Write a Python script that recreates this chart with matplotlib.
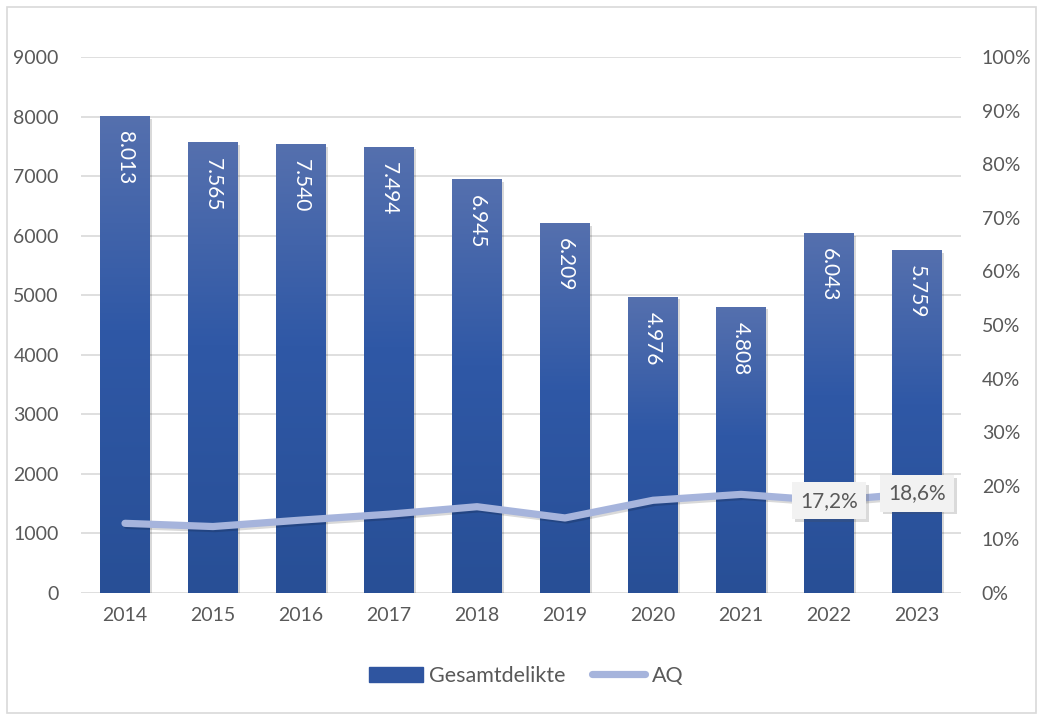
import matplotlib.pyplot as plt
import matplotlib.patheffects as pe
from matplotlib.colors import LinearSegmentedColormap
from matplotlib.patches import Rectangle
import numpy as np

years = ['2014', '2015', '2016', '2017', '2018', '2019', '2020', '2021', '2022', '2023']
delikte = [8013, 7565, 7540, 7494, 6945, 6209, 4976, 4808, 6043, 5759]
aq = [13.0, 12.4, 13.6, 14.7, 16.1, 14.0, 17.3, 18.4, 17.2, 18.6]
aq_labels = {8: '17,2%', 9: '18,6%'}

plt.rcParams['font.family'] = ['Lato', 'DejaVu Sans']
txt = '#595959'

fig = plt.figure(figsize=(10.38, 7.14), dpi=100)
ax = fig.add_axes([81 / 1038, 1 - 593 / 714, (961 - 81) / 1038, (593 - 57) / 714])
ax2 = ax.twinx()

# outer frame
fig.patches.append(Rectangle((7 / 1038, 1 / 714), 1029 / 1038, 706 / 714,
                             transform=fig.transFigure, fill=False,
                             edgecolor='#d9d9d9', linewidth=1.2))

x = np.arange(len(years))
w = 0.56
bars = ax.bar(x, delikte, width=w, color='#2f55a0', zorder=2,
              path_effects=[pe.SimplePatchShadow(offset=(2, -2), shadow_rgbFace='black', alpha=0.15),
                            pe.Normal()])

# vertical gradient per bar: lighter top, darker bottom
cmap = LinearSegmentedColormap.from_list('g', [(0, '#284f96'), (0.55, '#2f58a6'), (1, '#5570ae')])
grad = np.linspace(0, 1, 256).reshape(-1, 1)
for b, v in zip(bars, delikte):
    im = ax.imshow(grad, cmap=cmap, aspect='auto', origin='lower', zorder=3,
                   extent=[b.get_x(), b.get_x() + b.get_width(), 0, v])
    im.set_clip_path(b)
    ax.annotate(f'{v:,}'.replace(',', '.'), (b.get_x() + b.get_width() / 2, v),
                xytext=(0, -11), textcoords='offset points', rotation=-90,
                ha='center', va='top', color='white', fontsize=15, zorder=4)

ax.set_xlim(-0.5, len(years) - 0.5)
ax.set_ylim(0, 9000)
ax.set_yticks(range(0, 10000, 1000))
ax.set_xticks(x)
ax.set_xticklabels(years)
ax.grid(axis='y', color='#d9d9d9', linewidth=1.2, zorder=0)
ax.set_axisbelow(True)

ax2.plot(x, np.array(aq) / 100, color='#a6b4dc', linewidth=5.2, solid_capstyle='round',
         solid_joinstyle='round', zorder=5,
         path_effects=[pe.SimpleLineShadow(offset=(1.5, -1.5), shadow_color='black', alpha=0.15),
                       pe.Normal()])
ax2.set_ylim(0, 1)
ax2.set_yticks(np.linspace(0, 1, 11))
ax2.set_yticklabels([f'{i}%' for i in range(0, 101, 10)])

for i, lab in aq_labels.items():
    ax2.text(x[i], aq[i] / 100, lab, ha='center', va='center', fontsize=15, color=txt, zorder=6,
             bbox=dict(boxstyle='square,pad=0.4', facecolor='#f2f2f2', edgecolor='none',
                       path_effects=[pe.SimplePatchShadow(offset=(2, -2), alpha=0.2), pe.Normal()]))

for a in (ax, ax2):
    for s in a.spines.values():
        s.set_visible(False)
    a.tick_params(length=0, labelsize=14, labelcolor=txt)
ax.tick_params(axis='y', pad=16)
ax.tick_params(axis='x', pad=10)
ax2.tick_params(axis='y', pad=15)

handles = [Rectangle((0, 0), 1, 1, color='#2f55a0'),
           plt.Line2D([0], [0], color='#a6b4dc', linewidth=5.2, solid_capstyle='round')]
fig.legend(handles, ['Gesamtdelikte', 'AQ'], loc='center', bbox_to_anchor=(0.507, 1 - 676 / 714),
           ncol=2, frameon=False, fontsize=15.5, labelcolor=txt, handlelength=2.5,
           handletextpad=0.3, columnspacing=1.2)

fig.savefig('out.png', dpi=100)
